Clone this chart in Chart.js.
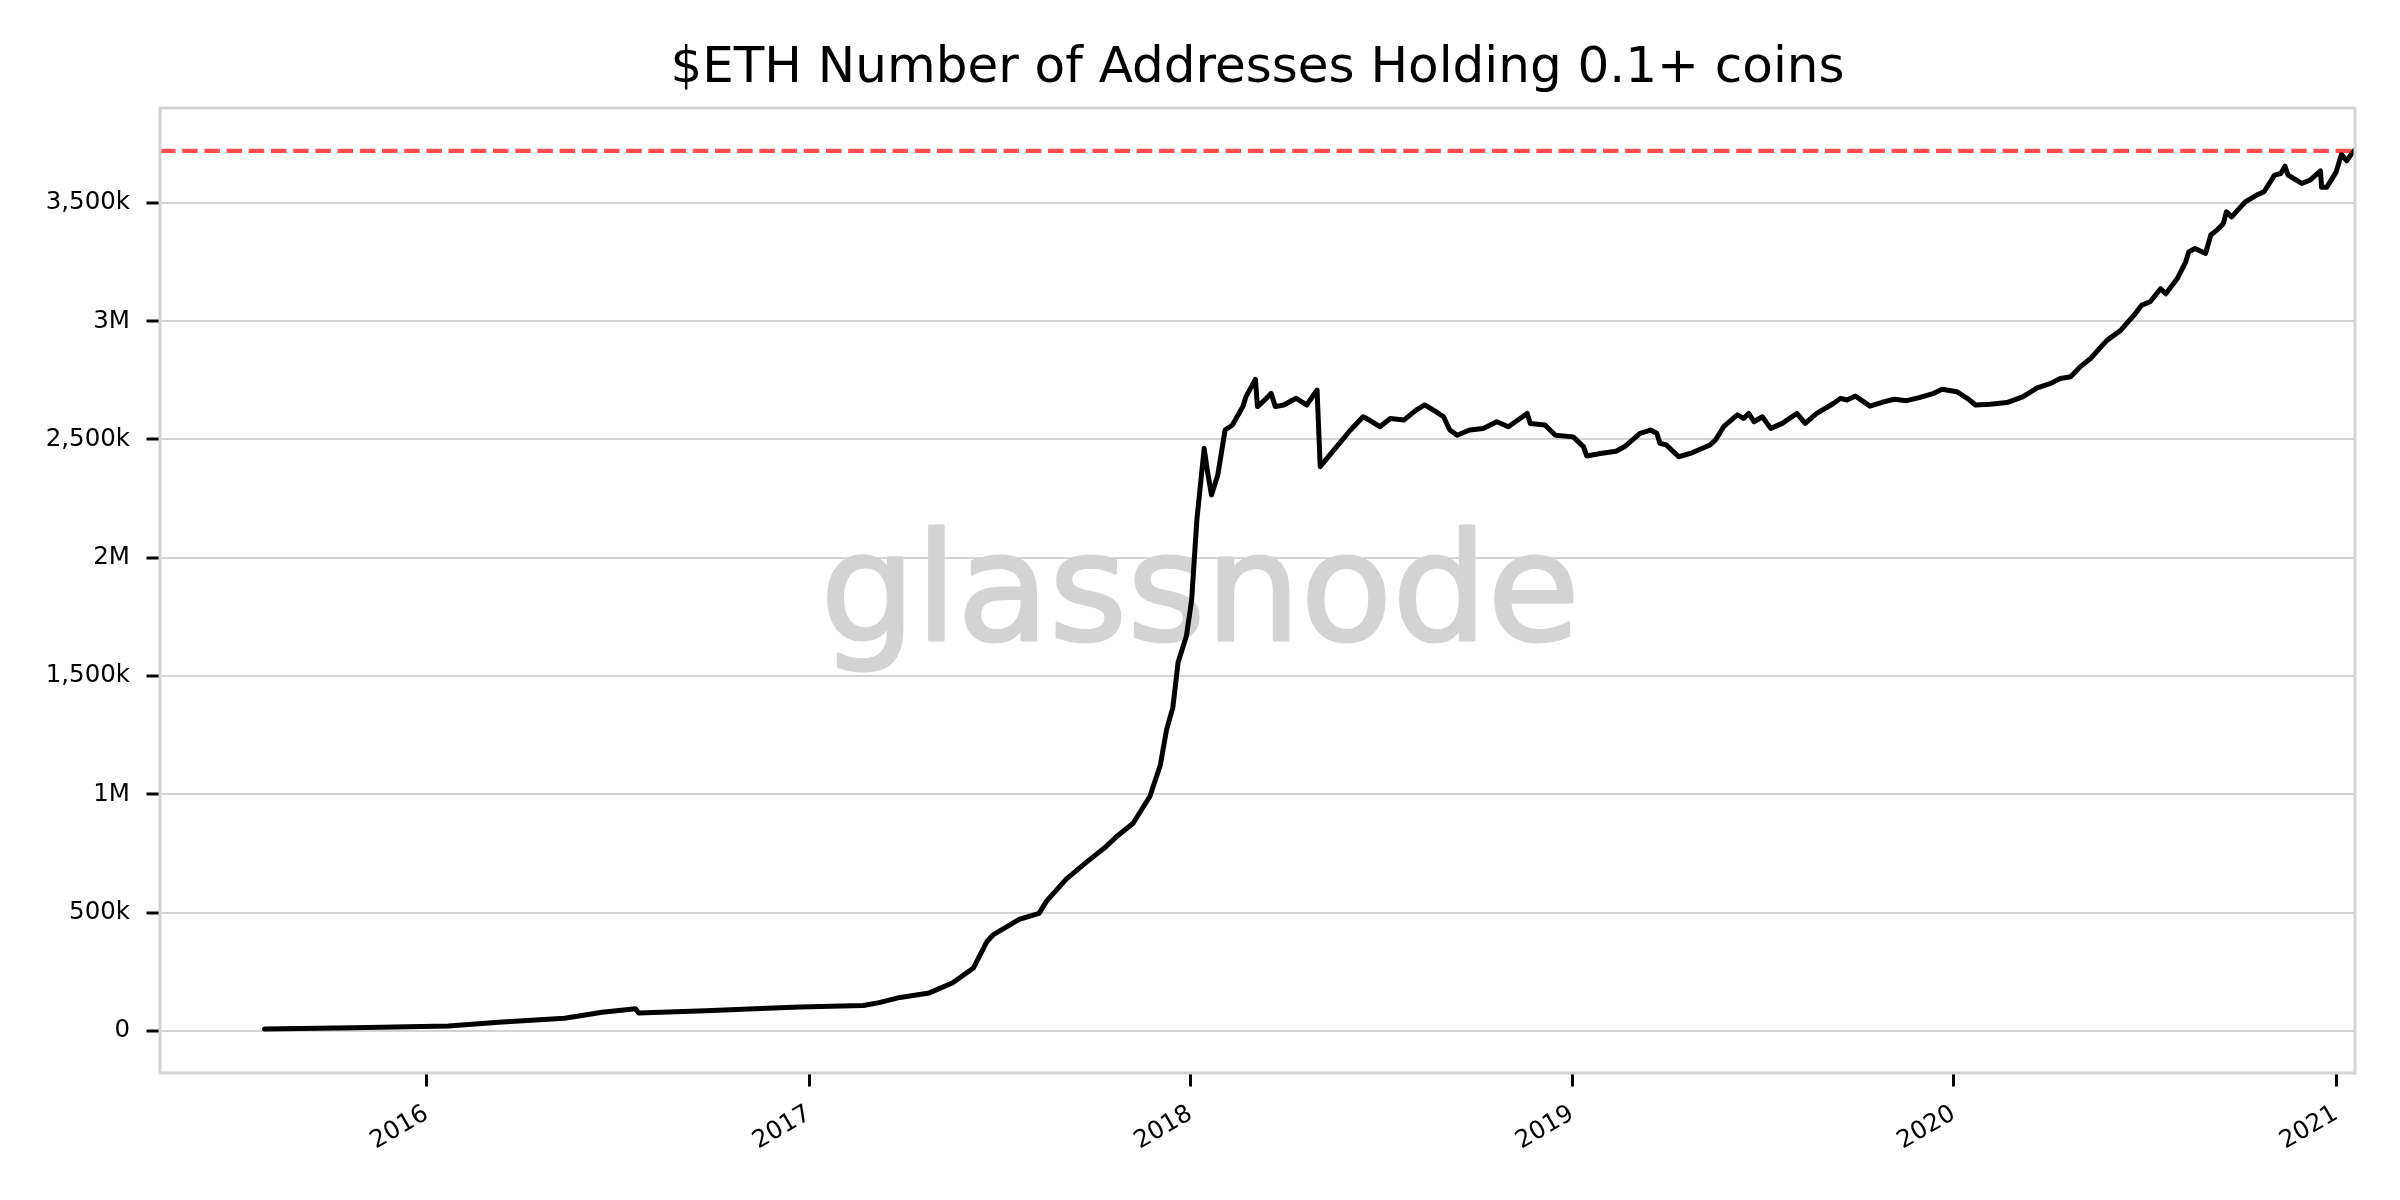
<!DOCTYPE html>
<html>
<head>
<meta charset="utf-8">
<script src="https://cdn.jsdelivr.net/npm/chart.js@4/dist/chart.umd.min.js"></script>
<style>
  html, body { margin: 0; padding: 0; background: #ffffff; }
  #wrap { width: 2400px; height: 1200px; }
</style>
</head>
<body>
<div id="wrap"><canvas id="c" width="2400" height="1200"></canvas></div>
<script>
// ---------- data ----------
const chartTitle = "$ETH Number of Addresses Holding 0.1+ coins";
const watermarkText = "glassnode";

const dates = [
  "2015-07-30","2015-10-23","2016-01-22","2016-03-10","2016-05-12","2016-06-17","2016-07-19","2016-07-22",
  "2016-09-24","2016-11-22","2016-12-23","2017-02-22","2017-03-09","2017-03-29","2017-04-26","2017-05-18",
  "2017-06-07","2017-06-20","2017-06-26","2017-07-21","2017-08-09","2017-08-16","2017-09-04","2017-09-24",
  "2017-10-12","2017-10-22","2017-11-07","2017-11-23","2017-12-03","2017-12-09","2017-12-15","2017-12-20",
  "2017-12-28","2018-01-02","2018-01-07","2018-01-14","2018-01-17","2018-01-21","2018-01-27","2018-02-03",
  "2018-02-10","2018-02-20","2018-02-23","2018-03-04","2018-03-06","2018-03-13","2018-03-19","2018-03-23",
  "2018-03-31","2018-04-12","2018-04-22","2018-05-02","2018-05-05","2018-05-18","2018-06-03","2018-06-15",
  "2018-06-21","2018-07-01","2018-07-11","2018-07-24","2018-08-05","2018-08-13","2018-08-21","2018-08-31",
  "2018-09-06","2018-09-13","2018-09-25","2018-10-08","2018-10-21","2018-11-01","2018-11-19","2018-11-22",
  "2018-12-06","2018-12-16","2019-01-02","2019-01-12","2019-01-15","2019-01-28","2019-02-12","2019-02-20",
  "2019-03-07","2019-03-17","2019-03-23","2019-03-26","2019-04-01","2019-04-13","2019-04-24","2019-05-13",
  "2019-05-18","2019-05-26","2019-06-08","2019-06-14","2019-06-19","2019-06-24","2019-07-02","2019-07-10",
  "2019-07-21","2019-08-04","2019-08-12","2019-08-23","2019-09-08","2019-09-15","2019-09-21","2019-09-29",
  "2019-10-07","2019-10-13","2019-10-26","2019-11-05","2019-11-17","2019-11-30","2019-12-13","2019-12-21",
  "2020-01-04","2020-01-14","2020-01-22","2020-02-05","2020-02-21","2020-03-07","2020-03-21","2020-04-03",
  "2020-04-12","2020-04-22","2020-05-01","2020-05-11","2020-05-21","2020-05-27","2020-06-09","2020-06-23",
  "2020-06-29","2020-07-07","2020-07-17","2020-07-22","2020-08-02","2020-08-10","2020-08-13","2020-08-19",
  "2020-08-29","2020-09-03","2020-09-09","2020-09-15","2020-09-18","2020-09-23","2020-10-06","2020-10-17",
  "2020-10-24","2020-11-03","2020-11-09","2020-11-13","2020-11-16","2020-11-29","2020-12-07","2020-12-17",
  "2020-12-18","2020-12-23","2021-01-01","2021-01-06","2021-01-11","2021-01-18"
];

const holders = [
  8000, 14000, 21000, 37000, 54000, 79000, 94000, 76000,
  86000, 96000, 101000, 108000, 120000, 142000, 161000, 203000,
  265000, 377000, 406000, 472000, 497000, 548000, 642000, 716000,
  779000, 821000, 878000, 991000, 1123000, 1274000, 1367000, 1557000,
  1669000, 1822000, 2161000, 2463000, 2369000, 2265000, 2350000, 2540000,
  2561000, 2639000, 2681000, 2754000, 2639000, 2667000, 2695000, 2639000,
  2646000, 2674000, 2646000, 2709000, 2385000, 2455000, 2540000, 2596000,
  2582000, 2554000, 2589000, 2582000, 2625000, 2646000, 2625000, 2596000,
  2540000, 2518000, 2540000, 2546000, 2575000, 2554000, 2610000, 2568000,
  2561000, 2518000, 2511000, 2469000, 2430000, 2441000, 2450000, 2469000,
  2526000, 2540000, 2526000, 2484000, 2477000, 2427000, 2441000, 2477000,
  2497000, 2554000, 2604000, 2589000, 2610000, 2575000, 2596000, 2547000,
  2568000, 2610000, 2568000, 2610000, 2652000, 2674000, 2667000, 2684000,
  2659000, 2641000, 2659000, 2670000, 2664000, 2678000, 2695000, 2712000,
  2702000, 2674000, 2646000, 2649000, 2656000, 2680000, 2718000, 2737000,
  2758000, 2765000, 2807000, 2842000, 2892000, 2920000, 2962000, 3033000,
  3068000, 3082000, 3137000, 3116000, 3180000, 3250000, 3293000, 3307000,
  3286000, 3364000, 3385000, 3412000, 3462000, 3441000, 3504000, 3533000,
  3547000, 3617000, 3624000, 3655000, 3617000, 3582000, 3596000, 3635000,
  3566000, 3566000, 3631000, 3705000, 3678000, 3720000
];

const athLevel = 3720000;                       // dashed red reference line
const yTickValues = [0, 500000, 1000000, 1500000, 2000000, 2500000, 3000000, 3500000];
const yTickLabels = ["0", "500k", "1M", "1,500k", "2M", "2,500k", "3M", "3,500k"];
const xTickYears = [2016, 2017, 2018, 2019, 2020, 2021];
const xRange = ["2015-04-21", "2021-01-19"];
const yRange = [-177500, 3901000];

// ---------- chart ----------
const ts = d => Date.parse(d + "T00:00:00Z");
const FONT = "'DejaVu Sans', 'Liberation Sans', sans-serif";

const seriesPoints = dates.map((d, i) => ({ x: ts(d), y: holders[i] }));
const athPoints = [{ x: ts(xRange[0]), y: athLevel }, { x: ts(xRange[1]), y: athLevel }];

const decorPlugin = {
  id: 'decor',
  beforeDatasetsDraw(chart) {
    const ctx = chart.ctx;
    ctx.save();
    ctx.fillStyle = '#d3d3d3';
    ctx.strokeStyle = '#d3d3d3';
    ctx.lineWidth = 3;
    ctx.lineJoin = 'round';
    ctx.font = "150px " + FONT;
    ctx.textAlign = 'center';
    ctx.textBaseline = 'alphabetic';
    ctx.fillText(watermarkText, chart.width / 2, 640);
    ctx.strokeText(watermarkText, chart.width / 2, 640);
    ctx.restore();
  },
  afterDatasetsDraw(chart) {
    const ctx = chart.ctx;
    const a = chart.chartArea;
    ctx.save();
    ctx.strokeStyle = '#d3d3d3';
    ctx.lineWidth = 3;
    ctx.strokeRect(a.left, a.top, a.right - a.left, a.bottom - a.top);
    ctx.restore();
  },
  afterDraw(chart) {
    const ctx = chart.ctx;
    const a = chart.chartArea;
    ctx.save();
    ctx.fillStyle = '#000000';
    ctx.font = "50px " + FONT;
    ctx.textAlign = 'center';
    ctx.textBaseline = 'alphabetic';
    ctx.fillText(chartTitle, (a.left + a.right) / 2, 82);
    ctx.restore();
  }
};

new Chart(document.getElementById('c'), {
  type: 'line',
  data: {
    datasets: [
      {
        label: 'ATH',
        data: athPoints,
        borderColor: 'rgba(255,0,0,0.7)',
        borderWidth: 4.2,
        borderDash: [15.5, 6.7],
        pointRadius: 0,
        fill: false,
        order: 0
      },
      {
        label: 'Addresses holding 0.1+ ETH',
        data: seriesPoints,
        borderColor: '#000000',
        borderWidth: 5,
        pointRadius: 0,
        tension: 0,
        borderJoinStyle: 'round',
        borderCapStyle: 'round',
        fill: false,
        order: 1
      }
    ]
  },
  options: {
    responsive: false,
    devicePixelRatio: 1,
    animation: false,
    layout: { padding: { left: 0, right: 45, top: 108, bottom: 0 } },
    plugins: {
      legend: { display: false },
      tooltip: { enabled: false },
      title: { display: false }
    },
    scales: {
      x: {
        type: 'linear',
        min: ts(xRange[0]),
        max: ts(xRange[1]),
        afterBuildTicks(scale) {
          scale.ticks = xTickYears.map(y => ({ value: Date.UTC(y, 0, 1) }));
        },
        afterFit(scale) { scale.height = 127; },
        grid: {
          display: true,
          drawOnChartArea: false,
          drawTicks: true,
          tickLength: 13.5,
          tickWidth: 3,
          tickColor: '#000000'
        },
        border: { display: false },
        ticks: {
          autoSkip: false,
          minRotation: 30,
          maxRotation: 30,
          padding: 13,
          color: '#000000',
          font: { family: FONT, size: 24.5 },
          callback: v => String(new Date(v).getUTCFullYear())
        }
      },
      y: {
        type: 'linear',
        min: yRange[0],
        max: yRange[1],
        afterBuildTicks(scale) {
          scale.ticks = yTickValues.map(v => ({ value: v }));
        },
        afterFit(scale) { scale.width = 160; },
        grid: {
          display: true,
          drawOnChartArea: true,
          drawTicks: true,
          color: '#d3d3d3',
          lineWidth: 2,
          tickLength: 13.5,
          tickWidth: 3,
          tickColor: '#000000'
        },
        border: { display: false },
        ticks: {
          padding: 16.5,
          color: '#000000',
          font: { family: FONT, size: 24.5 },
          callback: v => {
            const i = yTickValues.indexOf(v);
            return i >= 0 ? yTickLabels[i] : '';
          }
        }
      }
    }
  },
  plugins: [decorPlugin]
});
</script>
</body>
</html>
